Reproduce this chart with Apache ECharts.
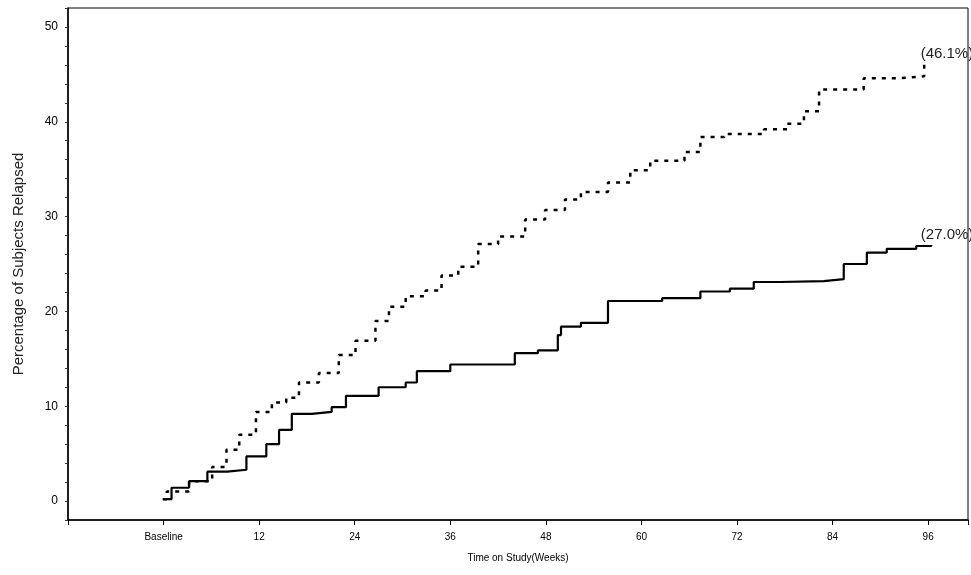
<!DOCTYPE html>
<html>
<head>
<meta charset="utf-8">
<script src="https://cdn.jsdelivr.net/npm/echarts@6/dist/echarts.min.js"></script>
<style>html,body{margin:0;padding:0;background:#fff}#chart{width:971px;height:575px}</style>
</head>
<body>
<div id="chart"></div>
<script>
// weeks / percentage relapsed
const solidWeeks = [-0.1, 1, 3.2, 5.5, 8, 10.4, 12.9, 14.5, 16.1, 18.6, 21.1, 22.9, 27, 30.4, 31.8, 36, 42.2, 44.1, 47, 49.5, 49.9, 52.4, 55.8, 62.6, 67.4, 71.1, 74.1, 77.4, 82.9, 85.4, 88.3, 90.8, 94.5, 96.4];
const solidPct = [0.2, 1.4, 2.1, 3.1, 3.3, 4.7, 6.0, 7.5, 9.2, 9.4, 9.9, 11.1, 12.0, 12.5, 13.7, 14.4, 14.4, 15.6, 15.9, 17.5, 18.4, 18.8, 21.1, 21.4, 22.1, 22.4, 23.1, 23.2, 23.4, 25.0, 26.2, 26.6, 26.9, 27.0];
const dotWeeks = [-0.1, 0.4, 3.2, 6.1, 7.9, 9.5, 11.6, 13.6, 15.4, 17, 19.5, 22, 24.1, 26.6, 28.3, 30.4, 32.9, 34.9, 37, 39.5, 42, 45.4, 47.9, 50.4, 52.4, 55.8, 58.6, 61.1, 65.4, 67.4, 70.4, 75.4, 78.3, 80.4, 82.3, 84.5, 87.9, 92.4, 95.5];
const dotPct = [0.2, 1.0, 2.1, 3.6, 5.4, 7.0, 9.4, 10.4, 10.9, 12.5, 13.5, 15.4, 16.9, 19.0, 20.5, 21.6, 22.2, 23.8, 24.7, 27.1, 27.9, 29.7, 30.7, 31.8, 32.6, 33.6, 34.9, 35.9, 36.8, 38.4, 38.7, 39.2, 39.8, 41.1, 43.4, 43.4, 44.6, 44.8, 46.1];
const endLabels = ['(27.0%)', '(46.1%)'];
const xTickLabels = { 0: 'Baseline', 12: '12', 24: '24', 36: '36', 48: '48', 60: '60', 72: '72', 84: '84', 96: '96' };

const pairs = (ws, ps) => ws.map((w, i) => [w, ps[i]]);
const endLabel = (txt, dx) => ({
  show: true, formatter: txt, fontSize: 15, color: '#222', fontFamily: 'Liberation Sans',
  align: 'right', verticalAlign: 'bottom', offset: [dx, -3]
});

const chart = echarts.init(document.getElementById('chart'));
chart.setOption({
  animation: false,
  backgroundColor: '#fff',
  grid: { left: 68, top: 8, right: -2, bottom: 55, show: true, borderColor: '#000', borderWidth: 1 },
  xAxis: {
    type: 'value', min: -12, max: 101, interval: 12,
    name: 'Time on Study(Weeks)', nameLocation: 'middle', nameGap: 33,
    nameTextStyle: { fontSize: 10, color: '#000', fontFamily: 'Liberation Sans' },
    axisLine: { onZero: false, lineStyle: { color: '#000', width: 1.5 } },
    axisTick: { length: 5, lineStyle: { color: '#000' } },
    axisLabel: { fontSize: 10, color: '#000', margin: 12, fontFamily: 'Liberation Sans',
      formatter: v => xTickLabels[v] !== undefined ? xTickLabels[v] : '' },
    splitLine: { show: false }
  },
  yAxis: {
    type: 'value', min: -2, max: 52, interval: 2,
    name: 'Percentage of Subjects Relapsed', nameLocation: 'middle', nameGap: 42,
    nameTextStyle: { fontSize: 15, color: '#222', fontFamily: 'Liberation Sans' },
    axisLine: { show: true, onZero: false, lineStyle: { color: '#000', width: 1.5 } },
    axisTick: { show: true, length: 3, lineStyle: { color: '#333' } },
    axisLabel: { fontSize: 12, color: '#000', margin: 10, fontFamily: 'Liberation Sans',
      formatter: v => (v >= 0 && v % 10 === 0) ? String(v) : '' },
    splitLine: { show: false }
  },
  series: [
    { type: 'line', step: 'end', symbol: 'none', data: pairs(solidWeeks, solidPct),
      endLabel: endLabel(endLabels[0], 34),
      lineStyle: { color: '#000', width: 2.2 } },
    { type: 'line', step: 'end', symbol: 'none', data: pairs(dotWeeks, dotPct),
      endLabel: endLabel(endLabels[1], 41),
      lineStyle: { color: '#000', width: 2.5, type: [4, 6] } }
  ]
});
</script>
</body>
</html>
